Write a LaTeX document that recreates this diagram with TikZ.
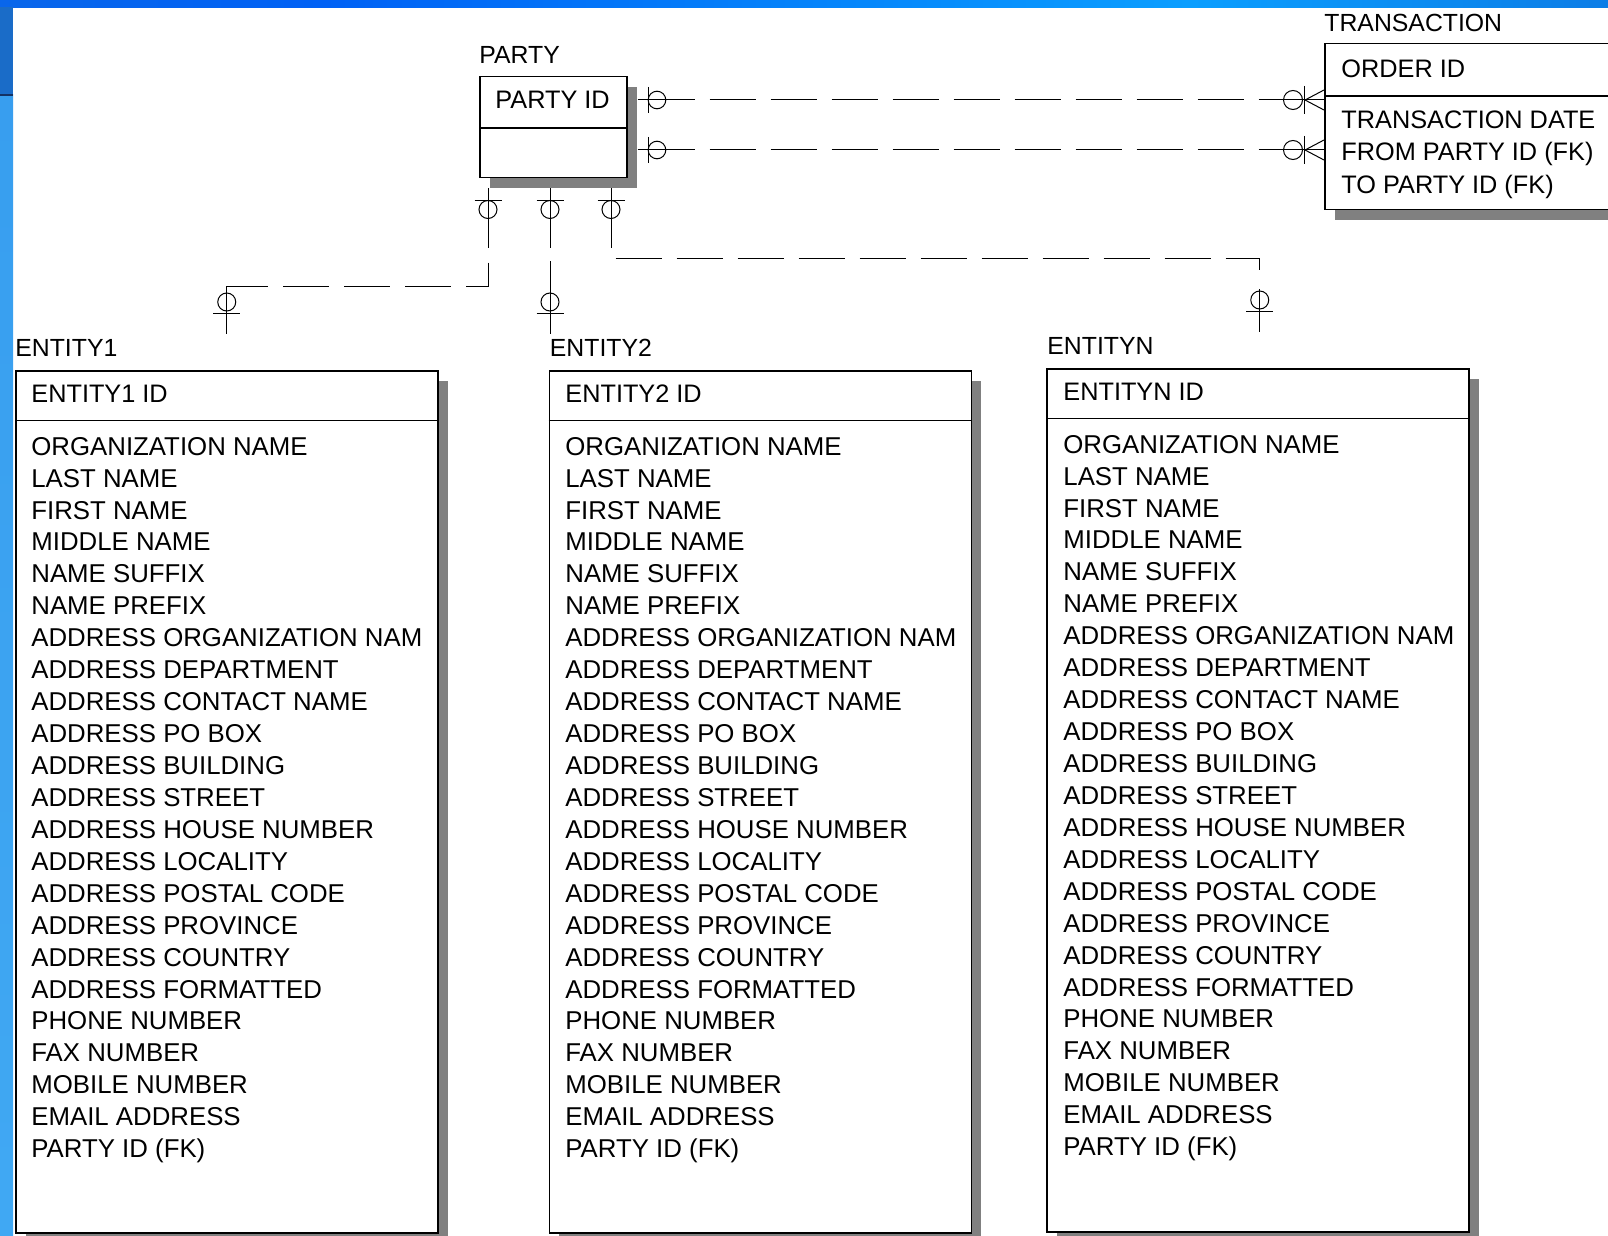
\documentclass[tikz,border=0pt]{standalone}
\usepackage{fontspec}
\setmainfont{Liberation Sans}
\usetikzlibrary{calc,shadows}
\definecolor{shd}{RGB}{128,128,128}
\definecolor{bluedark}{RGB}{26,108,200}
\definecolor{blueline}{RGB}{20,50,100}
\pgfdeclarehorizontalshading{topbar}{100bp}{rgb(0bp)=(0.12,0.45,0.82); rgb(35bp)=(0.0,0.38,0.96); rgb(62bp)=(0.04,0.62,1.0); rgb(82bp)=(0.05,0.42,0.85); rgb(100bp)=(0.02,0.30,0.72)}
\pgfdeclareverticalshading{leftbar}{100bp}{rgb(0bp)=(0.27,0.68,0.96); rgb(100bp)=(0.20,0.60,0.93)}
\newcommand\myattrlist{ORGANIZATION NAME,LAST NAME,FIRST NAME,MIDDLE NAME,NAME SUFFIX,NAME PREFIX,ADDRESS ORGANIZATION NAME,ADDRESS DEPARTMENT,ADDRESS CONTACT NAME,ADDRESS PO BOX,ADDRESS BUILDING,ADDRESS STREET,ADDRESS HOUSE NUMBER,ADDRESS LOCALITY,ADDRESS POSTAL CODE,ADDRESS PROVINCE,ADDRESS COUNTRY,ADDRESS FORMATTED,PHONE NUMBER,FAX NUMBER,MOBILE NUMBER,EMAIL ADDRESS,PARTY ID (FK)}
% horizontal relationship: zero-or-one at #1, zero-or-many at #2
\newcommand\hRel[2]{%
  \draw[conn] (#1) -- ($(#1)+(57,0)$);
  \draw[dsh] ($(#1)+(57,0)$) -- ($(#2)+(-42,0)$);
  \draw[conn] ($(#2)+(-42,0)$) -- (#2);
  \draw[conn] ($(#1)+(11,-13)$) -- ($(#1)+(11,13)$);
  \draw[conn] ($(#1)+(19.5,0)$) circle[radius=4.4pt];
  \draw[conn] ($(#2)+(-31,0)$) circle[radius=4.75pt];
  \draw[conn] ($(#2)+(-20,-14)$) -- ($(#2)+(-20,14)$);
  \draw[conn] ($(#2)+(0,-10)$) -- ($(#2)+(-19,0)$) -- ($(#2)+(0,10)$);
}
\newcommand\relTopMark[1]{%
  \draw[conn] ($(#1)+(-13.5,12)$) -- ($(#1)+(13.5,12)$);
  \draw[conn] ($(#1)+(0,21)$) circle[radius=4.5pt];
}
\newcommand\relBotMark[1]{%
  \draw[conn] ($(#1)+(-13.5,-21)$) -- ($(#1)+(13.5,-21)$);
  \draw[conn] ($(#1)+(0,-32)$) circle[radius=4.5pt];
}
\begin{document}
\begin{tikzpicture}[x=0.5pt,y=-0.5pt,
  ebox/.style={draw=black,line width=0.75pt,fill=white,rectangle,inner sep=0,anchor=north west,
    drop shadow={shadow xshift=5pt,shadow yshift=-5pt,fill=shd,opacity=1}},
  lbl/.style={font=\fontsize{12.4}{14}\selectfont,anchor=base west,inner sep=0},
  tattr/.style={font=\fontsize{12.65}{14}\selectfont,anchor=base west,inner sep=0},
  attr/.style={font=\fontsize{12.9}{15}\selectfont,anchor=base west,inner sep=0},
  conn/.style={line width=0.5pt,black},
  dsh/.style={conn,dash pattern=on 23pt off 7.5pt,dash phase=23pt},
  divl/.style={line width=0.75pt,black}]

\useasboundingbox (0,0) rectangle (1608,1236);
\clip (0,0) rectangle (1608,1236);
\fill[white] (0,0) rectangle (1608,1236);
\shade[shading=topbar] (0,0) rectangle (1608,7.5);
\fill[bluedark] (0,7.5) rectangle (13,95);
\shade[shading=leftbar] (0,95) rectangle (13,1236);
\draw[line width=0.7pt,blueline] (0,95) -- (13,95);

% boxes
\node[ebox,minimum width=73.5pt,minimum height=50.5pt] (party) at (479,76) {};
\node[ebox,minimum width=168pt,minimum height=83pt] (trans) at (1324,43) {};
\node[ebox,minimum width=211pt,minimum height=431pt] (e1) at (15,370) {};
\node[ebox,minimum width=211pt,minimum height=431pt] (e2) at (548.5,370) {};
\node[ebox,minimum width=211pt,minimum height=431.5pt] (eN) at (1046,368) {};

% dividers
\draw[divl] ($(party.north west)+(0,52)$) -- ($(party.north east)+(0,52)$);
\draw[divl] ($(trans.north west)+(0,53)$) -- ($(trans.north east)+(0,53)$);
\draw[divl] ($(e1.north west)+(0,50.5)$) -- ($(e1.north east)+(0,50.5)$);
\draw[divl] ($(e2.north west)+(0,50.5)$) -- ($(e2.north east)+(0,50.5)$);
\draw[divl] ($(eN.north west)+(0,50.5)$) -- ($(eN.north east)+(0,50.5)$);

% titles and keys
\node[lbl] (partyL) at (479,64) {PARTY};
\node[tattr] (partyID) at (495,108.5) {PARTY ID};
\node[lbl] (transL) at (1324,32) {TRANSACTION};
\node[tattr] (transID) at (1341,78) {ORDER ID};
\node[tattr] (transA1) at (1341,128.5) {TRANSACTION DATE};
\node[tattr] (transA2) at (1341,160.5) {FROM PARTY ID (FK)};
\node[tattr] (transA3) at (1341,193) {TO PARTY ID (FK)};
\node[lbl] (e1L) at (15,356) {ENTITY1};
\node[lbl] (e2L) at (549.5,356) {ENTITY2};
\node[lbl] (eNL) at (1047,354) {ENTITYN};
\node[tattr] (e1ID) at (31,402) {ENTITY1 ID};
\node[tattr] (e2ID) at (565,402) {ENTITY2 ID};
\node[tattr] (eNID) at (1063,400) {ENTITYN ID};

% attributes
\begin{scope}
\clip (e1.north west) rectangle ($(e1.south east)+(-16,0)$);
\foreach \t [count=\i from 0] in \myattrlist {\node[attr] (e1a\i) at (31,455.2+31.93*\i) {\t};}
\end{scope}
\begin{scope}
\clip (e2.north west) rectangle ($(e2.south east)+(-15,0)$);
\foreach \t [count=\i from 0] in \myattrlist {\node[attr] (e2a\i) at (565,455.2+31.93*\i) {\t};}
\end{scope}
\begin{scope}
\clip (eN.north west) rectangle ($(eN.south east)+(-15,0)$);
\foreach \t [count=\i from 0] in \myattrlist {\node[attr] (eNa\i) at (1063,453.2+31.93*\i) {\t};}
\end{scope}

% PARTY -> TRANSACTION
\coordinate (h1s) at ($(party.north east)+(10,24)$);
\coordinate (h1e) at ($(trans.north west)+(0,57)$);
\coordinate (h2s) at ($(party.north east)+(10,74)$);
\coordinate (h2e) at ($(trans.north west)+(0,107)$);
\hRel{h1s}{h1e}
\hRel{h2s}{h2e}

% PARTY -> entities
\coordinate (v1s) at ($(party.south west)+(9,10)$);
\coordinate (v2s) at ($(party.south west)+(71,10)$);
\coordinate (v3s) at ($(party.south west)+(132,10)$);
\coordinate (v1e) at ($(e1.north)+(0,-36)$);
\coordinate (v2e) at ($(e2.north west)+(1.5,-36)$);
\coordinate (v3e) at ($(eN.north)+(2,-36)$);

\draw[conn] (v1s) -- ($(v1s)+(0,59)$);
\draw[dsh] ($(v1s)+(0,59)$) |- ($(v1e)+(0,-48)$);
\draw[conn] ($(v1e)+(28,-48)$) -- ($(v1e)+(0,-48)$) -- (v1e);

\draw[conn] (v2s) -- ($(v2s)+(0,59)$);
\draw[conn] ($(v2e)+(0,-73)$) -- (v2e);

\draw[conn] (v3s) -- ($(v3s)+(0,59)$);
\draw[dsh] ($(v3s)+(0,59)$) |- ($(v3e)+(0,-74)$) -- ($(v3e)+(0,-59)$);
\draw[conn] ($(v3e)+(0,-43)$) -- (v3e);

\relTopMark{v1s}
\relTopMark{v2s}
\relTopMark{v3s}
\relBotMark{v1e}
\relBotMark{v2e}
\relBotMark{v3e}
\end{tikzpicture}
\end{document}
